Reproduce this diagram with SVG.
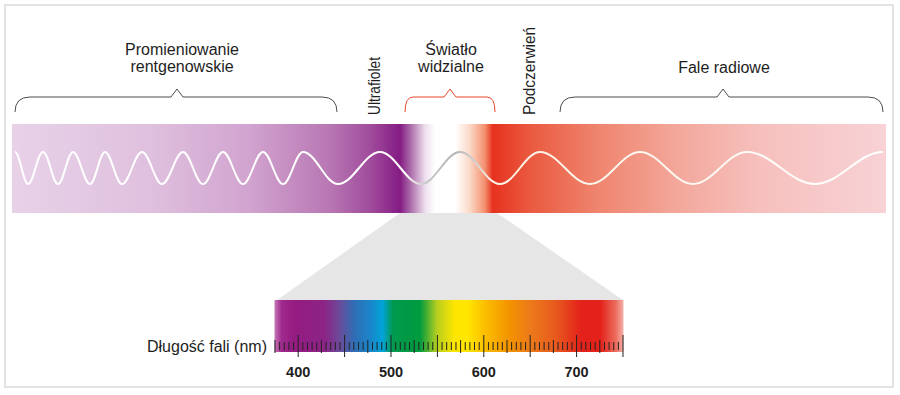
<svg xmlns="http://www.w3.org/2000/svg" width="900" height="395" viewBox="0 0 900 395">
<style>
.lbl{font-family:"Liberation Sans",Arial,sans-serif;font-size:16px;fill:#1e1e1e;}
.num{font-family:"Liberation Sans",Arial,sans-serif;font-size:14.5px;font-weight:bold;fill:#1e1e1e;text-anchor:middle;}
.br{fill:none;stroke:#4d4d4d;stroke-width:1;}
.tk{fill:none;stroke:#222;stroke-width:1;}
</style>
<defs>
<linearGradient id="bandG" gradientUnits="userSpaceOnUse" x1="12" y1="0" x2="886" y2="0">
<stop offset="0" stop-color="#e8d2e8"/>
<stop offset="0.158" stop-color="#dfc0de"/>
<stop offset="0.272" stop-color="#d1a3cf"/>
<stop offset="0.364" stop-color="#b877b3"/>
<stop offset="0.41" stop-color="#a04c9c"/>
<stop offset="0.444" stop-color="#851c84"/>
<stop offset="0.455" stop-color="#a865a6"/>
<stop offset="0.473" stop-color="#eee0ee"/>
<stop offset="0.484" stop-color="#ffffff"/>
<stop offset="0.507" stop-color="#ffffff"/>
<stop offset="0.524" stop-color="#fbd8c6"/>
<stop offset="0.541" stop-color="#f3906f"/>
<stop offset="0.55" stop-color="#e6321f"/>
<stop offset="0.593" stop-color="#ea5a40"/>
<stop offset="0.673" stop-color="#ef8670"/>
<stop offset="0.764" stop-color="#f3a89c"/>
<stop offset="0.856" stop-color="#f6c0bd"/>
<stop offset="1" stop-color="#f8d2d6"/>
</linearGradient>
<linearGradient id="waveG" gradientUnits="userSpaceOnUse" x1="12" y1="0" x2="886" y2="0">
<stop offset="0" stop-color="#ffffff"/>
<stop offset="0.45" stop-color="#ffffff"/>
<stop offset="0.4725" stop-color="#c8c8c8"/>
<stop offset="0.507" stop-color="#b4b4b4"/>
<stop offset="0.53" stop-color="#d0d0d0"/>
<stop offset="0.547" stop-color="#fdf3e6"/>
<stop offset="1" stop-color="#ffffff"/>
</linearGradient>
<linearGradient id="specG" gradientUnits="userSpaceOnUse" x1="274.5" y1="0" x2="623.5" y2="0">
<stop offset="0" stop-color="#c679b6"/>
<stop offset="0.02" stop-color="#a02a8e"/>
<stop offset="0.057" stop-color="#951b81"/>
<stop offset="0.144" stop-color="#8c2486"/>
<stop offset="0.187" stop-color="#6b4b9b"/>
<stop offset="0.23" stop-color="#2e6fb6"/>
<stop offset="0.273" stop-color="#1b84c7"/>
<stop offset="0.31" stop-color="#00a3d9"/>
<stop offset="0.339" stop-color="#009a4e"/>
<stop offset="0.417" stop-color="#009a3e"/>
<stop offset="0.466" stop-color="#b8cf1f"/>
<stop offset="0.517" stop-color="#ffe600"/>
<stop offset="0.555" stop-color="#ffe500"/>
<stop offset="0.609" stop-color="#fbba00"/>
<stop offset="0.675" stop-color="#f39200"/>
<stop offset="0.733" stop-color="#ec7a1a"/>
<stop offset="0.805" stop-color="#e85a1e"/>
<stop offset="0.876" stop-color="#e3231b"/>
<stop offset="0.934" stop-color="#e3231b"/>
<stop offset="0.977" stop-color="#ec6a5c"/>
<stop offset="1" stop-color="#f4b0a8"/>
</linearGradient>
</defs>
<rect width="900" height="395" fill="#ffffff"/>
<rect id="frame" x="5" y="5" width="888" height="382" fill="#ffffff" stroke="#e3e3e3" stroke-width="2"/>
<g id="band">
<rect x="12" y="124" width="874" height="89" fill="url(#bandG)"/>
</g>
<g id="wave">
<path fill="none" stroke="url(#waveG)" stroke-width="2" d="M15 152C19.73 152 23.27 184 28 184C33.46 184 37.54 152 43 152C48.46 152 52.54 184 58 184C63.46 184 67.54 152 73 152C79.19 152 83.81 184 90 184C95.46 184 99.54 152 105 152C111.19 152 115.81 184 122 184C129.28 184 134.72 152 142 152C149.28 152 154.72 184 162 184C169.64 184 175.36 152 183 152C190.28 152 195.72 184 203 184C210.28 184 215.72 152 223 152C230.28 152 235.72 184 243 184C250.28 184 255.72 152 263 152C270.28 152 275.72 184 283 184C290.28 184 295.72 152 303 152C315.74 152 325.26 184 338 184C353.29 184 364.71 152 380 152C394.92 152 406.08 184 421 184C435.2 184 445.8 152 460 152C474.56 152 485.44 184 500 184C514.56 184 525.44 152 540 152C558.2 152 571.8 184 590 184C608.2 184 621.8 152 640 152C659.29 152 673.71 184 693 184C712.66 184 727.34 152 747 152C771.75 152 790.25 184 815 184C839.75 184 858.25 152 883 152"/>
</g>
<g id="brackets">
<path id="bracket-xray" class="br" d="M15 112Q15 97 30 97L171 97L177 89L183 97L322 97Q337 97 337 112"/>
<path id="bracket-visible" class="br" style="stroke:#e8452a" d="M405 112Q405 97 413 97L444 97L450 89L456 97L487 97Q495 97 495 112"/>
<path id="bracket-radio" class="br" d="M560 112Q560 97 575 97L717 97L723 89L729 97L868 97Q883 97 883 112"/>
</g>
<g id="labels">
<text class="lbl" x="182" y="55" text-anchor="middle">Promieniowanie</text>
<text class="lbl" x="182" y="72" text-anchor="middle">rentgenowskie</text>
<text class="lbl" x="451" y="55" text-anchor="middle">Światło</text>
<text class="lbl" x="451" y="72" text-anchor="middle">widzialne</text>
<text class="lbl" x="724" y="73" text-anchor="middle">Fale radiowe</text>
<text class="lbl" transform="translate(380 115) rotate(-90)" x="0" y="0" textLength="58" lengthAdjust="spacingAndGlyphs">Ultrafiolet</text>
<text class="lbl" transform="translate(535 115) rotate(-90)" x="0" y="0" textLength="88" lengthAdjust="spacingAndGlyphs">Podczerwień</text>
</g>
<g id="zoom-funnel">
<polygon points="400,213 497,213 623,300 277,300" fill="#e6e6e6"/>
</g>
<g id="spectrum">
<rect x="274.5" y="300" width="349" height="52" fill="url(#specG)"/>
</g>
<g id="scale">
<path class="tk" d="M279.64 342v8M284.28 342v8M288.92 342v8M293.56 342v8M302.84 342v8M307.48 342v8M312.12 342v8M316.76 342v8M326.04 342v8M330.68 342v8M335.32 342v8M339.96 342v8M349.24 342v8M353.88 342v8M358.52 342v8M363.16 342v8M372.44 342v8M377.08 342v8M381.72 342v8M386.36 342v8M395.64 342v8M400.28 342v8M404.92 342v8M409.56 342v8M418.84 342v8M423.48 342v8M428.12 342v8M432.76 342v8M442.04 342v8M446.68 342v8M451.32 342v8M455.96 342v8M465.24 342v8M469.88 342v8M474.52 342v8M479.16 342v8M488.44 342v8M493.08 342v8M497.72 342v8M502.36 342v8M511.64 342v8M516.28 342v8M520.92 342v8M525.56 342v8M534.84 342v8M539.48 342v8M544.12 342v8M548.76 342v8M558.04 342v8M562.68 342v8M567.32 342v8M571.96 342v8M581.24 342v8M585.88 342v8M590.52 342v8M595.16 342v8M604.44 342v8M609.08 342v8M613.72 342v8M618.36 342v8"/>
<path class="tk" d="M275 340v13M321.4 340v13M367.8 340v13M414.2 340v13M460.6 340v13M507 340v13M553.4 340v13M599.8 340v13"/>
<path class="tk" d="M298.2 335v22M344.6 335v22M391 335v22M437.4 335v22M483.8 335v22M530.2 335v22M576.6 335v22M623 335v22"/>
<text class="num" x="298.2" y="377">400</text>
<text class="num" x="391" y="377">500</text>
<text class="num" x="483.8" y="377">600</text>
<text class="num" x="576.6" y="377">700</text>
<text class="lbl" x="267" y="352" text-anchor="end">Długość fali (nm)</text>
</g>
</svg>
